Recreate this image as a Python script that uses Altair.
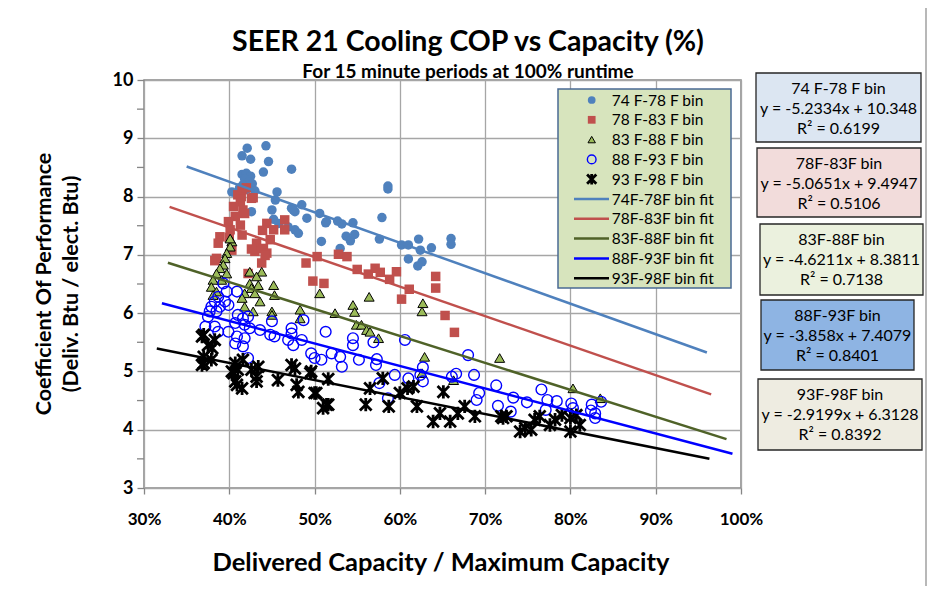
import altair as alt
import pandas as pd

FONT = "Lato"

# ---------------- data (x in % of max capacity, y = COP) ----------------
s1_x = [41.5, 42.1, 44.3, 42.5, 44.6, 47.3, 44.0, 41.5, 42.0, 42.5, 41.8, 42.3, 41.6, 42.7, 41.2, 42.0, 40.8, 40.3, 43.0,
        45.6, 45.4, 48.5, 47.3, 45.0, 50.6, 47.7, 42.6, 49.1, 45.2, 47.7, 50.8, 46.9, 48.1, 45.8, 47.5, 51.3, 52.7, 53.2,
        54.5, 53.7, 54.2, 54.7, 57.9, 58.6, 57.6, 53.0, 60.2, 61.0, 62.2, 62.4, 61.0, 62.6, 62.1, 63.7, 66.0, 66.0, 51.4, 58.6]
s1_y = [8.70, 8.83, 8.87, 8.64, 8.60, 8.47, 8.42, 8.38, 8.40, 8.35, 8.30, 8.25, 8.20, 8.22, 8.15, 8.12, 8.05, 8.08, 8.10,
        8.08, 7.94, 7.86, 7.80, 7.77, 7.71, 7.74, 7.74, 7.63, 7.61, 7.43, 7.23, 7.48, 7.37, 7.54, 7.77, 7.55, 7.58, 7.53,
        7.55, 7.32, 7.24, 7.35, 7.64, 8.13, 7.27, 7.11, 7.17, 7.17, 7.27, 7.08, 6.93, 6.88, 6.81, 7.12, 7.28, 7.18, 7.57, 8.18]

s2_x = [41.0, 42.6, 41.3, 40.5, 41.6, 40.7, 41.8, 39.9, 41.3, 40.1, 38.9, 38.7, 38.3, 42.8, 41.5, 44.4, 46.5, 46.5, 45.2,
        43.9, 44.8, 43.2, 44.0, 43.0, 44.4, 43.8, 40.3, 50.3, 49.0, 49.8, 51.1, 52.8, 53.8, 55.0, 56.3, 57.1, 57.7, 58.8,
        59.6, 60.2, 61.1, 64.2, 64.2, 65.3, 66.4, 42.2, 42.6, 44.2, 38.5, 41.4, 40.0, 41.5, 42.0]
s2_y = [8.03, 7.97, 7.91, 7.83, 7.77, 7.66, 7.71, 7.57, 7.51, 7.43, 7.31, 7.20, 6.90, 7.98, 7.34, 7.54, 7.60, 7.43, 7.43,
        7.42, 7.26, 7.20, 7.11, 7.06, 7.03, 6.86, 7.08, 6.97, 6.86, 6.55, 6.51, 7.01, 6.97, 6.75, 6.67, 6.77, 6.70, 6.58,
        6.71, 6.24, 6.41, 6.63, 6.43, 5.96, 5.67, 6.68, 7.10, 6.99, 6.94, 8.00, 7.30, 8.12, 8.15]

s3_x = [40.3, 40.1, 39.7, 39.5, 39.3, 38.9, 38.5, 39.7, 39.1, 38.1, 37.9, 38.5, 38.1, 42.4, 43.8, 43.2, 43.4, 42.4, 42.6,
        43.0, 43.6, 41.8, 41.5, 45.2, 45.3, 41.8, 42.8, 45.0, 45.0, 48.3, 48.3, 50.6, 40.1, 52.4, 54.5, 54.7, 56.4, 54.9,
        55.5, 56.1, 56.5, 57.5, 62.7, 62.6, 62.9, 71.7, 66.3, 62.6, 80.3, 83.5]
s3_y = [7.23, 7.14, 7.03, 6.94, 6.83, 6.77, 6.68, 6.68, 6.57, 6.57, 6.45, 6.37, 6.31, 6.71, 6.71, 6.63, 6.48, 6.51, 6.43,
        6.34, 6.20, 6.34, 6.26, 6.48, 6.31, 6.11, 6.03, 6.03, 5.97, 6.06, 5.91, 6.34, 7.28, 6.00, 6.14, 6.02, 6.28, 5.80,
        5.80, 5.71, 5.68, 5.57, 6.17, 6.03, 5.25, 5.23, 4.85, 4.97, 4.71, 4.54]

s4_x = [39.3, 39.7, 40.9, 38.7, 38.3, 39.5, 37.9, 38.9, 39.9, 37.7, 38.5, 37.5, 41.0, 41.6, 42.2, 41.8, 40.7, 42.4, 37.2,
        38.3, 38.7, 39.9, 40.9, 41.8, 40.7, 41.6, 42.2, 43.6, 45.0, 44.8, 45.3, 47.3, 47.3, 46.9, 47.5, 48.5, 48.7, 49.6,
        50.0, 50.8, 51.3, 54.5, 54.5, 56.9, 52.0, 53.0, 53.2, 55.2, 57.3, 57.2, 60.6, 59.4, 57.6, 58.6, 61.0, 62.4, 62.7,
        62.7, 66.1, 66.6, 68.0, 68.7, 69.0, 69.3, 71.3, 71.5, 73.0, 73.3, 74.9, 76.6, 77.3, 78.4, 77.1, 80.1, 80.3, 82.5,
        83.6, 82.9, 82.9, 82.4]
s4_y = [6.51, 6.37, 6.37, 6.28, 6.20, 6.20, 6.11, 6.11, 6.14, 6.03, 6.03, 5.94, 5.97, 5.91, 5.94, 5.80, 5.83, 5.74, 5.77,
        5.77, 5.68, 5.68, 5.60, 5.57, 5.48, 5.43, 5.23, 5.71, 5.86, 5.63, 5.60, 5.74, 5.65, 5.54, 5.45, 5.54, 5.88, 5.31,
        5.23, 5.20, 5.68, 5.57, 5.45, 5.50, 5.31, 5.25, 5.08, 5.20, 5.21, 5.11, 5.54, 4.94, 4.80, 4.54, 4.88, 4.94, 4.83,
        5.07, 4.91, 4.96, 5.28, 4.94, 4.51, 4.63, 4.76, 4.41, 4.31, 4.55, 4.47, 4.69, 4.51, 4.49, 4.34, 4.45, 4.37, 4.43,
        4.48, 4.28, 4.20, 4.33]

s5_x = [37.0, 38.3, 37.5, 37.0, 37.9, 37.0, 40.7, 41.6, 40.3, 41.0, 42.6, 43.4, 40.7, 41.5, 43.2, 43.2, 45.7, 47.3, 47.7,
        47.9, 48.1, 49.6, 50.0, 51.0, 36.8, 38.0, 36.8, 40.5, 40.9, 49.5, 50.2, 51.4, 51.6, 51.6, 56.5, 56.0, 58.0, 58.7,
        60.0, 60.9, 61.6, 62.0, 65.1, 63.9, 64.7, 65.9, 66.8, 67.6, 68.8, 71.9, 72.5, 74.1, 72.1, 74.7, 75.4, 76.4, 78.2,
        79.0, 80.0, 80.0, 81.1, 80.7, 77.6, 75.8]
s5_y = [5.63, 5.54, 5.45, 5.25, 5.20, 5.14, 5.14, 5.20, 5.00, 5.03, 5.03, 5.08, 4.83, 4.71, 4.83, 4.91, 4.85, 5.11, 5.05,
        4.77, 4.65, 5.00, 4.63, 4.37, 5.60, 5.40, 5.11, 4.97, 4.77, 4.97, 4.63, 4.43, 4.87, 4.43, 4.71, 4.43, 4.88, 4.40,
        4.63, 4.71, 4.74, 4.40, 4.65, 4.14, 4.28, 4.14, 4.28, 4.40, 4.23, 4.23, 4.23, 3.97, 4.20, 4.03, 4.00, 4.23, 4.17,
        4.25, 4.20, 3.97, 4.08, 4.25, 4.08, 4.17]

series_names = ["74 F-78 F bin", "78 F-83 F bin", "83 F-88 F bin", "88 F-93 F bin", "93 F-98 F bin"]
fit_names = ["74F-78F bin fit", "78F-83F bin fit", "83F-88F bin fit", "88F-93F bin fit", "93F-98F bin fit"]
fit_slope = [-5.2334, -5.0651, -4.6211, -3.858, -2.9199]
fit_intercept = [10.348, 9.4947, 8.3811, 7.4079, 6.3128]
fit_x_start = [0.35, 0.33, 0.328, 0.321, 0.315]
fit_x_end = [0.96, 0.965, 0.983, 0.99, 0.963]
r_squared = ["0.6199", "0.5106", "0.7138", "0.8401", "0.8392"]
box_titles = ["74 F-78 F bin", "78F-83F bin", "83F-88F bin", "88F-93F bin", "93F-98F bin"]
eq_texts = ["y = -5.2334x + 10.348", "y = -5.0651x + 9.4947", "y = -4.6211x + 8.3811",
            "y = -3.858x + 7.4079", "y = -2.9199x + 6.3128"]

x_ticks = [0.3, 0.4, 0.5, 0.6, 0.7, 0.8, 0.9, 1.0]
y_ticks = [3, 4, 5, 6, 7, 8, 9, 10]
y_minor = [3.5, 4.5, 5.5, 6.5, 7.5, 8.5, 9.5]

# ---------------- styling ----------------
W, H = 597, 408
C_BLUE = "#4F81BD"
C_RED = "#C0504D"
C_GREEN = "#9BBB59"
C_OLIVE = "#4F6228"
C_PURE = "#0000FF"
line_colors = [C_BLUE, C_RED, C_OLIVE, C_PURE, "#000000"]
box_fills = ["#DCE6F2", "#F2DCDB", "#EBF1DE", "#8EB4E3", "#EEECE1"]
STAR = "M-1,-1L1,1M-1,1L1,-1M0,-1.15L0,1.15"

xscale = alt.Scale(domain=[0.3, 1.0], nice=False, zero=False)
yscale = alt.Scale(domain=[3, 10], nice=False, zero=False)
xaxis = alt.Axis(values=x_ticks, format=".0%", title=None, grid=True, gridColor="#A6A6A6", gridWidth=1.3,
                 domain=False, tickSize=6, tickColor="#868686", tickWidth=1.3, labelPadding=17, labelFlush=False,
                 labelFont=FONT, labelFontWeight="bold", labelFontSize=17, labelColor="#000000")
yaxis = alt.Axis(values=y_ticks, format="d", title=None, grid=True, gridColor="#A6A6A6", gridWidth=1.3,
                 domain=False, tickSize=7, tickColor="#868686", tickWidth=1.3, labelPadding=4, labelFlush=False,
                 labelFont=FONT, labelFontWeight="bold", labelFontSize=18, labelColor="#000000")


def X(f="x"):
    return alt.X(f + ":Q", scale=xscale, axis=xaxis)


def Y(f="y"):
    return alt.Y(f + ":Q", scale=yscale, axis=yaxis)


def pts(xs, ys):
    return pd.DataFrame({"x": [v / 100 for v in xs], "y": ys})


layers = []

# minor ticks on y axis
layers.append(alt.Chart(pd.DataFrame({"y": y_minor})).mark_rule(color="#868686", strokeWidth=1.3).encode(
    y=Y(), x=alt.value(-7), x2=alt.value(0)))

# scatter series
layers.append(alt.Chart(pts(s1_x, s1_y)).mark_point(shape="circle", filled=True, color=C_BLUE, size=90, opacity=1)
              .encode(x=X(), y=Y()))
layers.append(alt.Chart(pts(s2_x, s2_y)).mark_point(shape="square", filled=True, color=C_RED, size=90, opacity=1)
              .encode(x=X(), y=Y()))
layers.append(alt.Chart(pts(s3_x, s3_y)).mark_point(shape="triangle-up", filled=True, fill=C_GREEN, stroke="#000000",
                                                   strokeWidth=1, size=100, opacity=1)
              .encode(x=X(), y=Y()))
layers.append(alt.Chart(pts(s4_x, s4_y)).mark_point(shape="circle", filled=False, color=C_PURE, strokeWidth=1.4,
                                                   size=115, opacity=1)
              .encode(x=X(), y=Y()))
layers.append(alt.Chart(pts(s5_x, s5_y)).mark_point(shape=STAR, filled=False, color="#000000", strokeWidth=2.8,
                                                   size=135, opacity=1)
              .encode(x=X(), y=Y()))

# trend lines from the fit equations
rows = []
for i in range(5):
    for xv in (fit_x_start[i], fit_x_end[i]):
        rows.append({"name": fit_names[i], "x": xv, "y": fit_slope[i] * xv + fit_intercept[i]})
fit_df = pd.DataFrame(rows)
layers.append(alt.Chart(fit_df).mark_line(strokeWidth=2.5).encode(
    x=X(), y=Y(),
    color=alt.Color("name:N", scale=alt.Scale(domain=fit_names, range=line_colors), legend=None)))

one = pd.DataFrame({"a": [0]})

# legend box (inside plot)
LX0, LX1, LY0, LY1 = 414, 587, 9, 208
ROW0, ROWH = 20, 19.8
layers.append(alt.Chart(one).mark_rect(fill="#D7E4BD", stroke="#4A6A94", strokeWidth=1.5).encode(
    x=alt.value(LX0), x2=alt.value(LX1), y=alt.value(LY0), y2=alt.value(LY1)))
sym_specs = [
    dict(shape="circle", filled=True, color=C_BLUE, size=60),
    dict(shape="square", filled=True, color=C_RED, size=60),
    dict(shape="triangle-up", filled=True, fill=C_GREEN, stroke="#000000", strokeWidth=1, size=55),
    dict(shape="circle", filled=False, color=C_PURE, strokeWidth=1.4, size=75),
    dict(shape=STAR, filled=False, color="#000000", strokeWidth=2.8, size=85),
]
for i, spec in enumerate(sym_specs):
    layers.append(alt.Chart(one).mark_point(opacity=1, **spec).encode(
        x=alt.value(447.7), y=alt.value(ROW0 + ROWH * i)))
for i in range(5):
    yy = ROW0 + ROWH * (5 + i)
    layers.append(alt.Chart(one).mark_rule(color=line_colors[i], strokeWidth=2.5).encode(
        x=alt.value(430), x2=alt.value(465), y=alt.value(yy)))
legend_text = "\n".join(series_names + fit_names)
layers.append(alt.Chart(one).mark_text(text=legend_text, lineBreak="\n", lineHeight=ROWH, align="left",
                                       baseline="alphabetic", font=FONT, fontSize=15.5, color="#000000").encode(
    x=alt.value(467.7), y=alt.value(ROW0 + 5.5)))

# equation boxes (right side)
box_x0 = [612, 613, 616, 617, 614]
box_x1 = [777, 777, 779, 770, 778]
box_y0 = [-7, 68, 144, 220, 299]
box_y1 = [62, 137, 215, 290, 370]
for i in range(5):
    layers.append(alt.Chart(one).mark_rect(fill=box_fills[i], stroke="#262626", strokeWidth=1.3).encode(
        x=alt.value(box_x0[i]), x2=alt.value(box_x1[i]), y=alt.value(box_y0[i]), y2=alt.value(box_y1[i])))
    txt = box_titles[i] + "\n" + eq_texts[i] + "\nR\u00b2 = " + r_squared[i]
    layers.append(alt.Chart(one).mark_text(text=txt, lineBreak="\n", lineHeight=20, align="center",
                                           baseline="alphabetic", font=FONT, fontSize=16, color="#000000").encode(
        x=alt.value((box_x0[i] + box_x1[i]) / 2), y=alt.value(box_y0[i] + 21)))

# titles
layers.append(alt.Chart(one).mark_text(text="SEER 21 Cooling COP vs Capacity (%)", font=FONT, fontSize=28.5,
                                       fontWeight="bold", align="center", baseline="middle", color="#000000").encode(
    x=alt.value(324), y=alt.value(-38)))
layers.append(alt.Chart(one).mark_text(text="For 15 minute periods at 100% runtime", font=FONT, fontSize=19,
                                       fontWeight="bold", align="center", baseline="middle", color="#000000").encode(
    x=alt.value(324), y=alt.value(-8)))
layers.append(alt.Chart(one).mark_text(text="Delivered Capacity  / Maximum Capacity", font=FONT, fontSize=25.5,
                                       fontWeight="bold", align="center", baseline="middle", color="#000000").encode(
    x=alt.value(297), y=alt.value(483)))
layers.append(alt.Chart(one).mark_text(text="Coefficient Of Performance", font=FONT, fontSize=21.5, angle=270,
                                       fontWeight="bold", align="center", baseline="middle", color="#000000").encode(
    x=alt.value(-99), y=alt.value(204)))
layers.append(alt.Chart(one).mark_text(text="(Deliv. Btu / elect. Btu)", font=FONT, fontSize=21.5, angle=270,
                                       fontWeight="bold", align="center", baseline="middle", color="#000000").encode(
    x=alt.value(-72), y=alt.value(204)))

# outer chart border (right and bottom edges)
layers.append(alt.Chart(one).mark_rule(color="#A0A0A0", strokeWidth=1.5).encode(
    x=alt.value(782), y=alt.value(-72), y2=alt.value(509)))
layers.append(alt.Chart(one).mark_rule(color="#A0A0A0", strokeWidth=1.5).encode(
    x=alt.value(-136), x2=alt.value(782), y=alt.value(509)))

chart = alt.layer(*layers).properties(
    width=W, height=H,
    autosize=alt.AutoSizeParams(type="none"),
    padding={"left": 136, "top": 72, "right": 186, "bottom": 98},
    background="#FFFFFF",
).configure_view(stroke="#868686", strokeWidth=1.5)

chart.save("out.html", embed_options={"renderer": "svg", "actions": False})
